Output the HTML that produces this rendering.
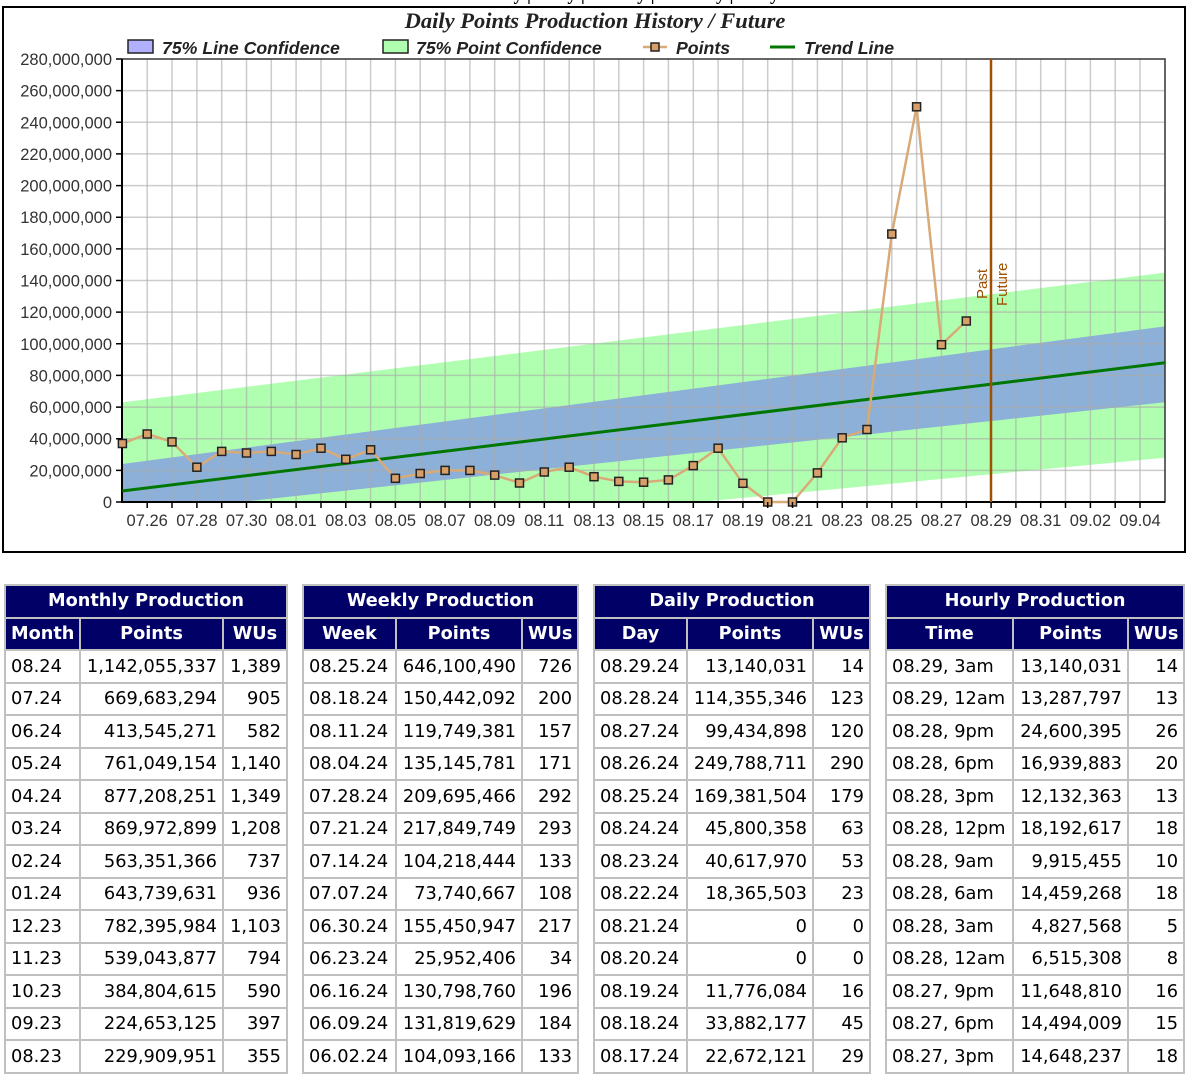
<!DOCTYPE html>
<html><head><meta charset="utf-8"><style>
body{margin:0;width:1186px;height:1069px;overflow:hidden;background:#fff;position:relative;font-family:"DejaVu Sans",Verdana,sans-serif}
svg{position:absolute;left:0;top:0}
table{position:absolute;top:584px;border-collapse:collapse;table-layout:fixed;font-size:17.8px;color:#000}
td,th{border:2px solid #c0c0c0;padding:0 5px;height:30.5px;white-space:nowrap;overflow:hidden}
th{background:#000066;color:#fff;font-weight:bold;font-size:17.7px;text-align:center}
td.r{text-align:right}
</style></head><body>
<svg width="1186" height="560" viewBox="0 0 1186 560">
<text x="595" y="0" font-family="Liberation Serif,serif" font-weight="bold" font-size="18" text-anchor="middle">Work Units: Hourly | Daily | Weekly | Monthly | Daily Total</text>
<rect x="3" y="7" width="1182" height="545" fill="#fff" stroke="#000" stroke-width="2"/>
<text x="595" y="28" font-family="Liberation Serif,serif" font-style="italic" font-weight="bold" font-size="22.5" text-anchor="middle" fill="#222">Daily Points Production History / Future</text>
<g font-family="Liberation Sans,sans-serif" font-style="italic" font-weight="bold" font-size="17.7" fill="#222">
<rect x="128" y="40" width="25" height="13" fill="#b0b0ff" stroke="#222" stroke-width="1.5"/><text x="162" y="54">75% Line Confidence</text>
<rect x="383" y="40" width="25" height="13" fill="#b0ffb0" stroke="#222" stroke-width="1.5"/><text x="416" y="54">75% Point Confidence</text>
<line x1="643" y1="47" x2="667" y2="47" stroke="#d8aa78" stroke-width="2.5"/><rect x="651" y="43" width="8" height="8" fill="#d8a068" stroke="#222" stroke-width="1.5"/><text x="676" y="54">Points</text>
<line x1="770" y1="47" x2="795" y2="47" stroke="#007700" stroke-width="3"/><text x="804" y="54">Trend Line</text>
</g>
<defs><clipPath id="c"><rect x="122" y="59" width="1043" height="443"/></clipPath></defs>
<g clip-path="url(#c)">
<polygon points="122.4,402.3 1164.9,272.6 1164.9,457.7 122.4,557" fill="#b0ffb0"/>
<polygon points="122.4,464 1164.9,326.4 1164.9,402.3 122.4,514.7" fill="#8cb0d8"/>
</g>
<g stroke="#aaa" stroke-opacity="0.6" stroke-width="1.5">
<path d="M147.2 59V502M172 59V502M196.9 59V502M221.7 59V502M246.5 59V502M271.3 59V502M296.1 59V502M321 59V502M345.8 59V502M370.6 59V502M395.4 59V502M420.2 59V502M445.1 59V502M469.9 59V502M494.7 59V502M519.5 59V502M544.3 59V502M569.2 59V502M594 59V502M618.8 59V502M643.6 59V502M668.4 59V502M693.3 59V502M718.1 59V502M742.9 59V502M767.7 59V502M792.5 59V502M817.4 59V502M842.2 59V502M867 59V502M891.8 59V502M916.6 59V502M941.5 59V502M966.3 59V502M1015.9 59V502M1040.7 59V502M1065.5 59V502M1090.4 59V502M1115.2 59V502M1140 59V502"/>
<path d="M122 470.4H1165M122 438.7H1165M122 407.1H1165M122 375.4H1165M122 343.8H1165M122 312.1H1165M122 280.5H1165M122 248.9H1165M122 217.2H1165M122 185.6H1165M122 153.9H1165M122 122.3H1165M122 90.6H1165"/>
</g>
<rect x="122" y="59" width="1043" height="443" fill="none" stroke="#333" stroke-width="1.5"/>
<line x1="122" y1="59" x2="122" y2="503" stroke="#000" stroke-width="2"/>
<line x1="121" y1="502" x2="1165" y2="502" stroke="#000" stroke-width="2"/>
<line x1="122.4" y1="490.9" x2="1164.9" y2="362.8" stroke="#007700" stroke-width="3"/>
<line x1="991" y1="59" x2="991" y2="502" stroke="#a05000" stroke-width="2.5"/>
<g font-family="Liberation Sans,sans-serif" font-size="15" fill="#a05000">
<text transform="translate(987,299) rotate(-90)">Past</text>
<text transform="translate(1007,306) rotate(-90)">Future</text>
</g>
<polyline fill="none" stroke="#d8aa78" stroke-width="2.5" points="122.4,443.5 147.2,434 172,441.9 196.9,467.2 221.7,451.4 246.5,453 271.3,451.4 296.1,454.5 321,448.2 345.8,459.3 370.6,449.8 395.4,478.3 420.2,473.5 445.1,470.4 469.9,470.4 494.7,475.1 519.5,483 544.3,472 569.2,467.2 594,476.7 618.8,481.4 643.6,482.2 668.4,479.9 693.3,465.6 718.1,448.2 742.9,483.3 767.7,502 792.5,502 817.4,472.9 842.2,437.8 867,429.5 891.8,234 916.6,106.8 941.5,344.7 966.3,321"/>
<g fill="#d8a068" stroke="#222" stroke-width="1.5">
<rect x="118.4" y="439.5" width="8" height="8"/><rect x="143.2" y="430" width="8" height="8"/><rect x="168" y="437.9" width="8" height="8"/><rect x="192.9" y="463.2" width="8" height="8"/><rect x="217.7" y="447.4" width="8" height="8"/><rect x="242.5" y="449" width="8" height="8"/><rect x="267.3" y="447.4" width="8" height="8"/><rect x="292.1" y="450.5" width="8" height="8"/><rect x="317" y="444.2" width="8" height="8"/><rect x="341.8" y="455.3" width="8" height="8"/><rect x="366.6" y="445.8" width="8" height="8"/><rect x="391.4" y="474.3" width="8" height="8"/><rect x="416.2" y="469.5" width="8" height="8"/><rect x="441.1" y="466.4" width="8" height="8"/><rect x="465.9" y="466.4" width="8" height="8"/><rect x="490.7" y="471.1" width="8" height="8"/><rect x="515.5" y="479" width="8" height="8"/><rect x="540.3" y="468" width="8" height="8"/><rect x="565.2" y="463.2" width="8" height="8"/><rect x="590" y="472.7" width="8" height="8"/><rect x="614.8" y="477.4" width="8" height="8"/><rect x="639.6" y="478.2" width="8" height="8"/><rect x="664.4" y="475.9" width="8" height="8"/><rect x="689.3" y="461.6" width="8" height="8"/><rect x="714.1" y="444.2" width="8" height="8"/><rect x="738.9" y="479.3" width="8" height="8"/><rect x="763.7" y="498" width="8" height="8"/><rect x="788.5" y="498" width="8" height="8"/><rect x="813.4" y="468.9" width="8" height="8"/><rect x="838.2" y="433.8" width="8" height="8"/><rect x="863" y="425.5" width="8" height="8"/><rect x="887.8" y="230" width="8" height="8"/><rect x="912.6" y="102.8" width="8" height="8"/><rect x="937.5" y="340.7" width="8" height="8"/><rect x="962.3" y="317" width="8" height="8"/>
</g>
<g stroke="#000" stroke-width="1.5">
<path d="M116 502H122M116 470.4H122M116 438.7H122M116 407.1H122M116 375.4H122M116 343.8H122M116 312.1H122M116 280.5H122M116 248.9H122M116 217.2H122M116 185.6H122M116 153.9H122M116 122.3H122M116 90.6H122M116 59H122"/>
<path d="M147.2 502v6M172 502v6M196.9 502v6M221.7 502v6M246.5 502v6M271.3 502v6M296.1 502v6M321 502v6M345.8 502v6M370.6 502v6M395.4 502v6M420.2 502v6M445.1 502v6M469.9 502v6M494.7 502v6M519.5 502v6M544.3 502v6M569.2 502v6M594 502v6M618.8 502v6M643.6 502v6M668.4 502v6M693.3 502v6M718.1 502v6M742.9 502v6M767.7 502v6M792.5 502v6M817.4 502v6M842.2 502v6M867 502v6M891.8 502v6M916.6 502v6M941.5 502v6M966.3 502v6M991.1 502v6M1015.9 502v6M1040.7 502v6M1065.5 502v6M1090.4 502v6M1115.2 502v6M1140 502v6"/>
</g>
<g font-family="Liberation Sans,sans-serif" font-size="16.5" fill="#333" text-anchor="end">
<text x="112" y="508">0</text><text x="112" y="476.4">20,000,000</text><text x="112" y="444.7">40,000,000</text><text x="112" y="413.1">60,000,000</text><text x="112" y="381.4">80,000,000</text><text x="112" y="349.8">100,000,000</text><text x="112" y="318.1">120,000,000</text><text x="112" y="286.5">140,000,000</text><text x="112" y="254.9">160,000,000</text><text x="112" y="223.2">180,000,000</text><text x="112" y="191.6">200,000,000</text><text x="112" y="159.9">220,000,000</text><text x="112" y="128.3">240,000,000</text><text x="112" y="96.6">260,000,000</text><text x="112" y="65">280,000,000</text>
</g>
<g font-family="Liberation Sans,sans-serif" font-size="16.5" fill="#333" text-anchor="middle">
<text x="147.2" y="526">07.26</text><text x="196.9" y="526">07.28</text><text x="246.5" y="526">07.30</text><text x="296.1" y="526">08.01</text><text x="345.8" y="526">08.03</text><text x="395.4" y="526">08.05</text><text x="445.1" y="526">08.07</text><text x="494.7" y="526">08.09</text><text x="544.3" y="526">08.11</text><text x="594" y="526">08.13</text><text x="643.6" y="526">08.15</text><text x="693.3" y="526">08.17</text><text x="742.9" y="526">08.19</text><text x="792.5" y="526">08.21</text><text x="842.2" y="526">08.23</text><text x="891.8" y="526">08.25</text><text x="941.5" y="526">08.27</text><text x="991.1" y="526">08.29</text><text x="1040.7" y="526">08.31</text><text x="1090.4" y="526">09.02</text><text x="1140" y="526">09.04</text>
</g>
</svg>

<table style="left:4px;width:282px"><colgroup><col style="width:75px"><col style="width:143px"><col style="width:64px"></colgroup>
<tr><th colspan="3">Monthly Production</th></tr>
<tr><th>Month</th><th>Points</th><th>WUs</th></tr>
<tr><td>08.24</td><td class="r">1,142,055,337</td><td class="r">1,389</td></tr>
<tr><td>07.24</td><td class="r">669,683,294</td><td class="r">905</td></tr>
<tr><td>06.24</td><td class="r">413,545,271</td><td class="r">582</td></tr>
<tr><td>05.24</td><td class="r">761,049,154</td><td class="r">1,140</td></tr>
<tr><td>04.24</td><td class="r">877,208,251</td><td class="r">1,349</td></tr>
<tr><td>03.24</td><td class="r">869,972,899</td><td class="r">1,208</td></tr>
<tr><td>02.24</td><td class="r">563,351,366</td><td class="r">737</td></tr>
<tr><td>01.24</td><td class="r">643,739,631</td><td class="r">936</td></tr>
<tr><td>12.23</td><td class="r">782,395,984</td><td class="r">1,103</td></tr>
<tr><td>11.23</td><td class="r">539,043,877</td><td class="r">794</td></tr>
<tr><td>10.23</td><td class="r">384,804,615</td><td class="r">590</td></tr>
<tr><td>09.23</td><td class="r">224,653,125</td><td class="r">397</td></tr>
<tr><td>08.23</td><td class="r">229,909,951</td><td class="r">355</td></tr>
</table>

<table style="left:302px;width:275px"><colgroup><col style="width:93px"><col style="width:126px"><col style="width:56px"></colgroup>
<tr><th colspan="3">Weekly Production</th></tr>
<tr><th>Week</th><th>Points</th><th>WUs</th></tr>
<tr><td>08.25.24</td><td class="r">646,100,490</td><td class="r">726</td></tr>
<tr><td>08.18.24</td><td class="r">150,442,092</td><td class="r">200</td></tr>
<tr><td>08.11.24</td><td class="r">119,749,381</td><td class="r">157</td></tr>
<tr><td>08.04.24</td><td class="r">135,145,781</td><td class="r">171</td></tr>
<tr><td>07.28.24</td><td class="r">209,695,466</td><td class="r">292</td></tr>
<tr><td>07.21.24</td><td class="r">217,849,749</td><td class="r">293</td></tr>
<tr><td>07.14.24</td><td class="r">104,218,444</td><td class="r">133</td></tr>
<tr><td>07.07.24</td><td class="r">73,740,667</td><td class="r">108</td></tr>
<tr><td>06.30.24</td><td class="r">155,450,947</td><td class="r">217</td></tr>
<tr><td>06.23.24</td><td class="r">25,952,406</td><td class="r">34</td></tr>
<tr><td>06.16.24</td><td class="r">130,798,760</td><td class="r">196</td></tr>
<tr><td>06.09.24</td><td class="r">131,819,629</td><td class="r">184</td></tr>
<tr><td>06.02.24</td><td class="r">104,093,166</td><td class="r">133</td></tr>
</table>

<table style="left:593px;width:276px"><colgroup><col style="width:93px"><col style="width:126px"><col style="width:57px"></colgroup>
<tr><th colspan="3">Daily Production</th></tr>
<tr><th>Day</th><th>Points</th><th>WUs</th></tr>
<tr><td>08.29.24</td><td class="r">13,140,031</td><td class="r">14</td></tr>
<tr><td>08.28.24</td><td class="r">114,355,346</td><td class="r">123</td></tr>
<tr><td>08.27.24</td><td class="r">99,434,898</td><td class="r">120</td></tr>
<tr><td>08.26.24</td><td class="r">249,788,711</td><td class="r">290</td></tr>
<tr><td>08.25.24</td><td class="r">169,381,504</td><td class="r">179</td></tr>
<tr><td>08.24.24</td><td class="r">45,800,358</td><td class="r">63</td></tr>
<tr><td>08.23.24</td><td class="r">40,617,970</td><td class="r">53</td></tr>
<tr><td>08.22.24</td><td class="r">18,365,503</td><td class="r">23</td></tr>
<tr><td>08.21.24</td><td class="r">0</td><td class="r">0</td></tr>
<tr><td>08.20.24</td><td class="r">0</td><td class="r">0</td></tr>
<tr><td>08.19.24</td><td class="r">11,776,084</td><td class="r">16</td></tr>
<tr><td>08.18.24</td><td class="r">33,882,177</td><td class="r">45</td></tr>
<tr><td>08.17.24</td><td class="r">22,672,121</td><td class="r">29</td></tr>
</table>

<table style="left:885px;width:298px"><colgroup><col style="width:127px"><col style="width:115px"><col style="width:56px"></colgroup>
<tr><th colspan="3">Hourly Production</th></tr>
<tr><th>Time</th><th>Points</th><th>WUs</th></tr>
<tr><td>08.29, 3am</td><td class="r">13,140,031</td><td class="r">14</td></tr>
<tr><td>08.29, 12am</td><td class="r">13,287,797</td><td class="r">13</td></tr>
<tr><td>08.28, 9pm</td><td class="r">24,600,395</td><td class="r">26</td></tr>
<tr><td>08.28, 6pm</td><td class="r">16,939,883</td><td class="r">20</td></tr>
<tr><td>08.28, 3pm</td><td class="r">12,132,363</td><td class="r">13</td></tr>
<tr><td>08.28, 12pm</td><td class="r">18,192,617</td><td class="r">18</td></tr>
<tr><td>08.28, 9am</td><td class="r">9,915,455</td><td class="r">10</td></tr>
<tr><td>08.28, 6am</td><td class="r">14,459,268</td><td class="r">18</td></tr>
<tr><td>08.28, 3am</td><td class="r">4,827,568</td><td class="r">5</td></tr>
<tr><td>08.28, 12am</td><td class="r">6,515,308</td><td class="r">8</td></tr>
<tr><td>08.27, 9pm</td><td class="r">11,648,810</td><td class="r">16</td></tr>
<tr><td>08.27, 6pm</td><td class="r">14,494,009</td><td class="r">15</td></tr>
<tr><td>08.27, 3pm</td><td class="r">14,648,237</td><td class="r">18</td></tr>
</table>
</body></html>
